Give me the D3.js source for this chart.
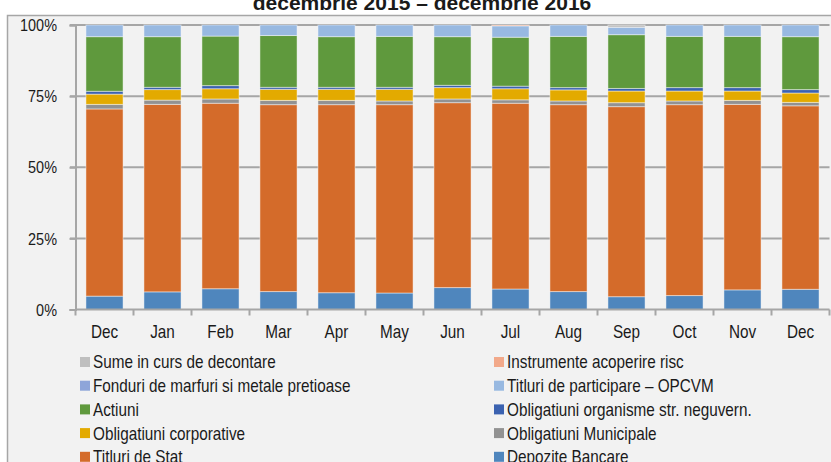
<!DOCTYPE html>
<html>
<head>
<meta charset="utf-8">
<script src="https://cdn.jsdelivr.net/npm/d3@7"></script>
<style>
  body { margin: 0; background: #fff; }
  text { font-family: "Liberation Sans", Arial, sans-serif; fill: #1a1a1a; }
</style>
</head>
<body>
<div id="chart"></div>
<script>
// months, dec 2015 .. dec 2016
var months = ["Dec", "Jan", "Feb", "Mar", "Apr", "May", "Jun", "Jul", "Aug", "Sep", "Oct", "Nov", "Dec"];

// % of portfolio
var depoziteBancare   = [4.7, 6.2, 7.3, 6.3, 5.9, 5.8, 7.7, 7.2, 6.3, 4.5, 4.9, 6.9, 7.1];
var titluriDeStat     = [65.8, 65.9, 65.2, 65.7, 66.1, 66.2, 65.0, 65.3, 65.7, 66.8, 67.1, 65.2, 64.5];
var obligMunicipale   = [1.6, 1.5, 1.5, 1.5, 1.5, 1.3, 1.3, 1.2, 1.3, 1.4, 1.3, 1.4, 1.2];
var obligCorporative  = [3.6, 3.7, 3.6, 3.9, 3.9, 4.1, 4.0, 3.9, 3.9, 4.1, 3.5, 3.3, 3.3];
var obligOrganisme    = [1.0, 0.8, 1.1, 0.7, 0.7, 0.7, 0.8, 0.9, 0.8, 0.9, 1.2, 1.2, 1.2];
var actiuni           = [19.2, 17.8, 17.4, 18.2, 17.8, 17.9, 17.1, 17.2, 18.0, 18.9, 18.0, 18.0, 18.6];
var titluriOpcvm      = [4.1, 4.1, 3.9, 3.7, 4.1, 4.0, 4.1, 4.0, 4.0, 2.6, 4.0, 4.0, 4.1];
var fonduriMarfuri    = [0, 0, 0, 0, 0, 0, 0, 0, 0, 0, 0, 0, 0];
var instrumenteRisc   = [0, 0, 0, 0, 0, 0, 0, 0.3, 0, 0, 0, 0, 0];
var sumeDecontare     = [0, 0, 0, 0, 0, 0, 0, 0, 0, 0.8, 0, 0, 0];

var yTicks = [0, 0.25, 0.5, 0.75, 1];

// stacking order, bottom up
var series = [
  {key: "dep",  name: "Depozite Bancare", values: depoziteBancare, color: "#4f86bd"},
  {key: "stat", name: "Titluri de Stat", values: titluriDeStat, color: "#d46b2a"},
  {key: "muni", name: "Obligatiuni Municipale", values: obligMunicipale, color: "#929292"},
  {key: "corp", name: "Obligatiuni corporative", values: obligCorporative, color: "#e3aa00"},
  {key: "org",  name: "Obligatiuni organisme str. neguvern.", values: obligOrganisme, color: "#3b62b0"},
  {key: "act",  name: "Actiuni", values: actiuni, color: "#5f993d"},
  {key: "opc",  name: "Titluri de participare \u2013 OPCVM", values: titluriOpcvm, color: "#98b9e1"},
  {key: "fon",  name: "Fonduri de marfuri si metale pretioase", values: fonduriMarfuri, color: "#8ea5d9"},
  {key: "ins",  name: "Instrumente acoperire risc", values: instrumenteRisc, color: "#f2a98a"},
  {key: "sum",  name: "Sume in curs de decontare", values: sumeDecontare, color: "#bfbfbf"}
];

var W = 831, H = 462;
var NARROW = 0.85; // the source font is a condensed one
var svg = d3.select("#chart").append("svg")
  .attr("width", W)
  .attr("height", H);

// squeezed text placed at (tx, ty)
function narrowText(g, tx, ty) {
  return g.append("text")
    .attr("transform", "translate(" + tx + "," + ty + ") scale(" + NARROW + ",1)");
}

// chart frame
svg.append("rect")
  .attr("x", 7.5).attr("y", 15.5)
  .attr("width", 900).attr("height", 500)
  .attr("fill", "#f2f2f2")
  .attr("stroke", "#a6a6a6")
  .attr("stroke-width", 1.5);

svg.append("text")
  .attr("x", 422).attr("y", 10)
  .attr("text-anchor", "middle")
  .style("font-weight", "bold")
  .style("font-size", "21px")
  .text("decembrie 2015 \u2013 decembrie 2016");

var rows = months.map(function(m, i) {
  var r = {idx: i};
  series.forEach(function(s) { r[s.key] = s.values[i]; });
  return r;
});

var stack = d3.stack()
  .keys(series.map(function(s) { return s.key; }))
  .offset(d3.stackOffsetExpand);
var layers = stack(rows);

var x = d3.scaleBand()
  .domain(d3.range(months.length))
  .range([75.5, 829.5])
  .paddingInner(0.36)
  .paddingOuter(0.18);

var y = d3.scaleLinear()
  .domain([0, 1])
  .range([309.5, 25]);

// gridlines
svg.append("g")
  .selectAll("line")
  .data(yTicks.slice(1))
  .join("line")
  .attr("x1", 70).attr("x2", 829.5)
  .attr("y1", function(d) { return y(d); })
  .attr("y2", function(d) { return y(d); })
  .attr("stroke", "#a6a6a6")
  .attr("stroke-width", 2);

// y axis (line + ticks from d3, labels drawn narrow)
var yAxis = svg.append("g")
  .attr("transform", "translate(75.5,0)")
  .call(d3.axisLeft(y).tickValues(yTicks).tickFormat("").tickSize(6));
yAxis.select(".domain").attr("stroke", "#a6a6a6").attr("stroke-width", 2);
yAxis.selectAll(".tick line").attr("stroke", "#a6a6a6").attr("stroke-width", 2);
var fmt = d3.format(".0%");
yTicks.forEach(function(t) {
  narrowText(svg, 57, y(t))
    .attr("text-anchor", "end")
    .attr("dy", "0.36em")
    .style("font-size", "17px")
    .text(fmt(t));
});

// bars
svg.append("g")
  .selectAll("g")
  .data(layers)
  .join("g")
  .attr("fill", function(d, i) { return series[i].color; })
  .selectAll("rect")
  .data(function(d) { return d; })
  .join("rect")
  .attr("x", function(d) { return x(d.data.idx); })
  .attr("width", x.bandwidth())
  .attr("y", function(d) { return y(d[1]); })
  .attr("height", function(d) { return Math.max(0, y(d[0]) - y(d[1])); })
  .attr("stroke", "rgba(255,255,255,0.45)")
  .attr("stroke-width", function(d) { return d[1] - d[0] > 0 ? 1 : 0; });

// x axis: ticks sit on band boundaries
var xb = d3.scaleLinear().domain([0, months.length]).range([75.5, 829.5]);
var xAxis = svg.append("g")
  .attr("transform", "translate(0,309.5)");
xAxis.append("line")
  .attr("x1", 75.5).attr("x2", 829.5)
  .attr("stroke", "#a6a6a6").attr("stroke-width", 2);
xAxis.selectAll("line.tk")
  .data(d3.range(months.length + 1))
  .join("line")
  .attr("class", "tk")
  .attr("x1", function(d) { return xb(d); })
  .attr("x2", function(d) { return xb(d); })
  .attr("y1", 0).attr("y2", 6)
  .attr("stroke", "#a6a6a6").attr("stroke-width", 2);
months.forEach(function(m, i) {
  narrowText(xAxis, x(i) + x.bandwidth() / 2, 28)
    .attr("text-anchor", "middle")
    .style("font-size", "18px")
    .text(m);
});

// legend: two columns, reverse of stacking order
var legendItems = series.slice().reverse();
var legend = svg.append("g");
var item = legend.selectAll("g")
  .data(legendItems)
  .join("g")
  .attr("transform", function(d, i) {
    var col = i % 2, row = Math.floor(i / 2);
    return "translate(" + (col === 0 ? 80 : 494) + "," + (362 + row * 23.7) + ")";
  });
item.append("rect")
  .attr("x", 0).attr("y", -5)
  .attr("width", 10).attr("height", 10)
  .attr("fill", function(d) { return d.color; });
item.each(function(d) {
  narrowText(d3.select(this), 13, 0)
    .attr("dy", "0.36em")
    .style("font-size", "18px")
    .text(d.name);
});
</script>
</body>
</html>
